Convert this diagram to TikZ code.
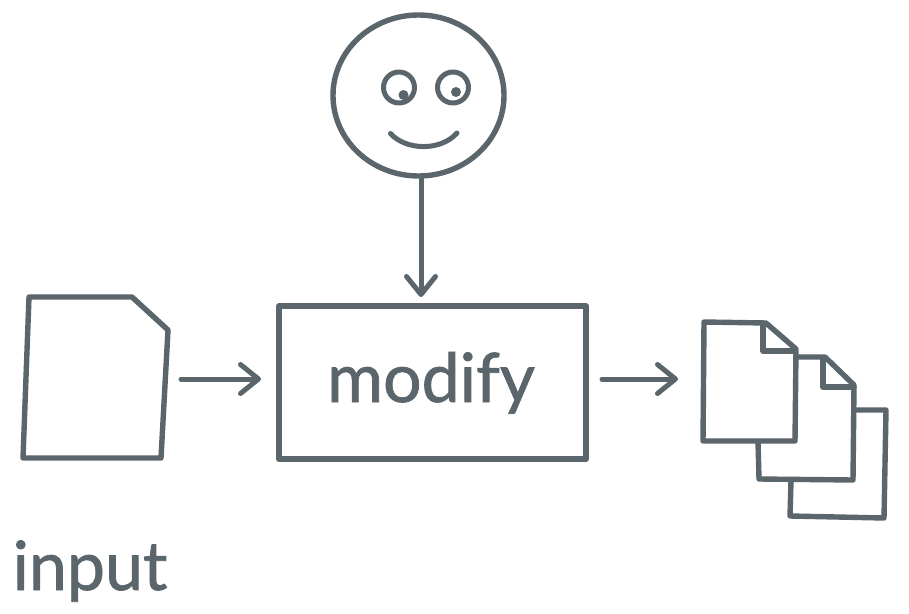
\documentclass[tikz,border=0pt]{standalone}
\usepackage{fontspec}
\setmainfont{Lato}
\newfontfamily\handfont[FakeBold=1.1]{Lato}
\usetikzlibrary{arrows.meta,shapes.geometric}
\definecolor{ink}{HTML}{5A656C}
\tikzset{
  sketch/.style={draw=ink,line width=5.4pt,line join=round,line cap=round},
  thin sketch/.style={draw=ink,line width=5pt,line join=round,line cap=round},
  flow/.style={draw=ink,line width=5pt,line cap=round,-{Straight Barb[length=18pt,width=29pt,line width=5pt,round]}},
  label text/.style={text=ink,inner sep=0pt,anchor=base}
}
\begin{document}
\begin{tikzpicture}[x=1pt,y=-1pt]
\useasboundingbox (0,0) rectangle (909,613);
\fill[white] (0,0) rectangle (909,613);
% face
\node[ellipse,sketch,minimum width=171pt,minimum height=161pt,inner sep=0pt] (face) at (418.5,95.5) {};
\node[circle,thin sketch,minimum size=31pt,inner sep=0pt] (eyeL) at (399,87.5) {};
\node[circle,thin sketch,minimum size=31pt,inner sep=0pt] (eyeR) at (453,87.5) {};
\node[circle,fill=ink,minimum size=10pt,inner sep=0pt] (pupilL) at (403.5,95) {};
\node[circle,fill=ink,minimum size=10pt,inner sep=0pt] (pupilR) at (456,92) {};
\draw[thin sketch] (390.5,133.5) .. controls (405,150) and (440,152) .. (457,133);
% process
\node[rectangle,sketch,minimum width=307pt,minimum height=153pt,inner sep=0pt] (modify) at (432.5,382.5) {};
\node[label text,font=\handfont\fontsize{68}{68}\selectfont] (modifytext) at (431,402) {modify};
\node[label text,font=\handfont\fontsize{68}{68}\selectfont] (inputtext) at (90,590) {input};
% input document
\draw[sketch] (29,297) -- (132,297) -- (168,330) -- (161,458) -- (23,458) -- cycle;
% output documents
\draw[sketch] (855,410) -- (886,410) -- (884,518) -- (790,516) -- (791,481);
\draw[sketch] (797,357) -- (825,357) -- (854,385) -- (853,480) -- (759,479) -- (758,442);
\draw[sketch] (823,358) -- (823,387) -- (854,387);
\draw[sketch] (704,322) -- (766,323) -- (796,349) -- (795,441) -- (703,441) -- cycle;
\draw[sketch] (763,323) -- (763,351) -- (795,351);
% connectors
\coordinate (inR) at (181,379);
\coordinate (modL) at (261,379);
\coordinate (modR) at (602,379);
\coordinate (outL) at (678,379);
\coordinate (faceB) at (421,177);
\coordinate (modT) at (421,297);
\draw[flow] (faceB) -- (modT);
\draw[flow] (inR) -- (modL);
\draw[flow] (modR) -- (outL);
\end{tikzpicture}
\end{document}
